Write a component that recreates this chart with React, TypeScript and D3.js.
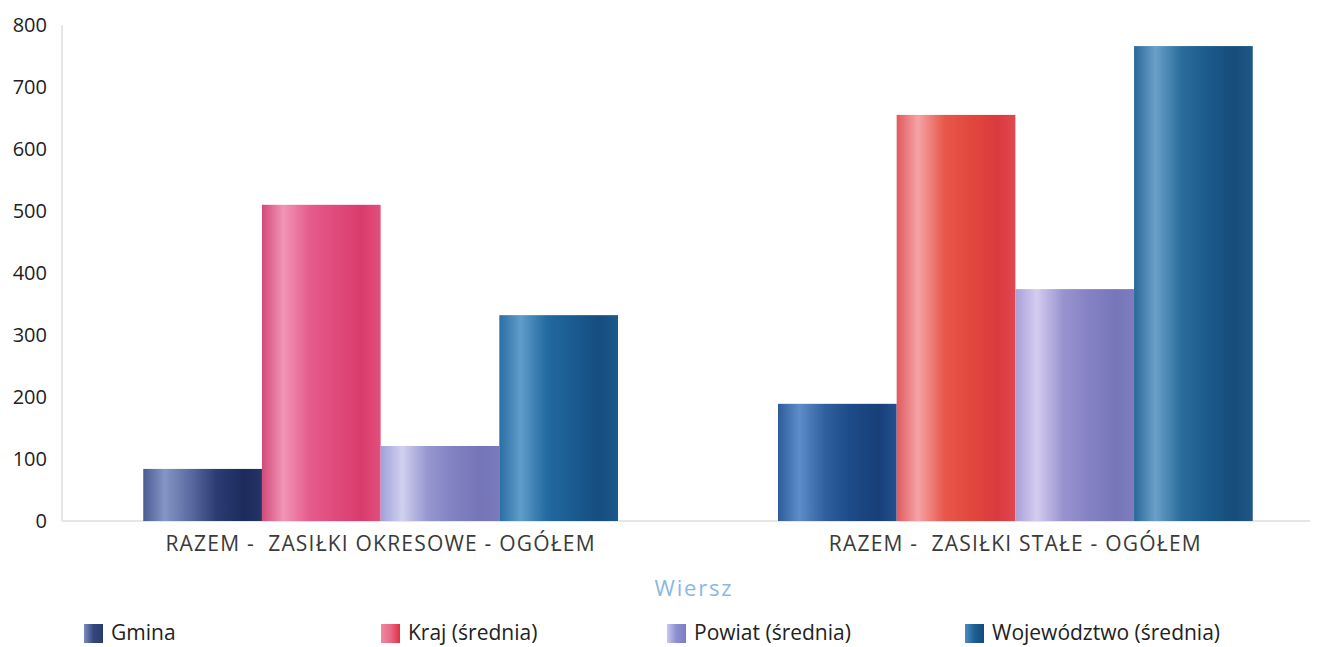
import React from 'react';
import * as d3 from 'd3';

const categories = ['RAZEM -  ZASIŁKI OKRESOWE - OGÓŁEM', 'RAZEM -  ZASIŁKI STAŁE - OGÓŁEM'];
const seriesNames = ['Gmina', 'Kraj (średnia)', 'Powiat (średnia)', 'Województwo (średnia)'];
const gmina = [84, 189];
const kraj = [510, 655];
const powiat = [121, 374];
const wojewodztwo = [332, 766];
const yTicks = [0, 100, 200, 300, 400, 500, 600, 700, 800];
const xAxisTitle = 'Wiersz';

const seriesValues = [gmina, kraj, powiat, wojewodztwo];

// gradient stops per series / category (scan-like vertical stripes)
const barStops: string[][][] = [
  [
    ['#4a5b92', '#8595c4', '#5a6aa0', '#2c3c72', '#1c2b5c', '#233466'],
    ['#2d5c9c', '#5d8cc8', '#2f5f9e', '#1d4a88', '#183f78', '#22508e'],
  ],
  [
    ['#d2497a', '#f195b5', '#e65c8c', '#e04a7c', '#d93c6c', '#e2507e'],
    ['#e05a5e', '#f5a3a6', '#e8574a', '#e2483c', '#d93a3e', '#e24850'],
  ],
  [
    ['#a0a0d8', '#d0d0f0', '#9696d0', '#8080c2', '#7474b8', '#7a7abd'],
    ['#a8a0d8', '#d4ccf0', '#9a94d0', '#8482c4', '#7676ba', '#7c7cbe'],
  ],
  [
    ['#2b6ea4', '#5f9dcb', '#226aa0', '#1a5b90', '#154d80', '#1d5a8c'],
    ['#2a6898', '#6aa0c8', '#2a6c9c', '#1b5a8a', '#164c7a', '#1e5888'],
  ],
];
const legendColors = [
  ['#34477c', '#7d8cc0', '#2a3a6e'],
  ['#e86a86', '#f08aa0', '#e03040'],
  ['#8d8dd0', '#c8c8f0', '#7c7cc4'],
  ['#1e5f92', '#4d8cc0', '#134a7a'],
];

const W = 1324;
const H = 647;
const margin = { top: 25, left: 62, right: 1334, bottom: 521 };

const App: React.FC = () => {
  const x0 = d3.scaleBand<string>()
    .domain(categories)
    .range([margin.left, margin.right])
    .paddingInner(0.252)
    .paddingOuter(0.128);

  const x1 = d3.scaleBand<number>()
    .domain(d3.range(seriesNames.length))
    .range([0, x0.bandwidth()])
    .padding(0);

  const y = d3.scaleLinear().domain([0, 800]).range([margin.bottom, margin.top]);

  const font = '"Open Sans", "DejaVu Sans", sans-serif';
  const legendX = [84, 381, 667, 965];

  return (
    <svg width={W} height={H} style={{ position: 'absolute', left: 0, top: 0, background: '#fff' }}>
      <defs>
        {barStops.map((cats, s) =>
          cats.map((stops, c) => (
            <linearGradient key={`g${s}-${c}`} id={`g${s}-${c}`} x1="0" x2="1" y1="0" y2="0">
              {stops.map((col, k) => (
                <stop key={k} offset={[0, 0.18, 0.4, 0.62, 0.85, 1][k]} stopColor={col} />
              ))}
            </linearGradient>
          ))
        )}
        {legendColors.map((cols, s) => (
          <linearGradient key={`l${s}`} id={`l${s}`} x1="0" x2="1" y1="0" y2="0">
            <stop offset="0" stopColor={cols[1]} />
            <stop offset="0.5" stopColor={cols[0]} />
            <stop offset="1" stopColor={cols[2]} />
          </linearGradient>
        ))}
      </defs>

      {/* axes */}
      <line x1={margin.left} x2={margin.left} y1={margin.top} y2={y(0)} stroke="#e6e6e6" strokeWidth={2} />
      <line x1={margin.left} x2={1310} y1={y(0)} y2={y(0)} stroke="#e6e6e6" strokeWidth={2} />

      {yTicks.map(t => (
        <text key={t} x={47} y={y(t)} dy="0.35em" textAnchor="end" fontFamily={font} fontSize={20} fill="#222">
          {t}
        </text>
      ))}

      {/* bars */}
      {categories.map((cat, c) => (
        <g key={cat} transform={`translate(${x0(cat)},0)`}>
          {seriesValues.map((vals, s) => (
            <rect
              key={s}
              x={x1(s)}
              y={y(vals[c])}
              width={x1.bandwidth()}
              height={y(0) - y(vals[c])}
              fill={`url(#g${s}-${c})`}
            />
          ))}
        </g>
      ))}

      {categories.map(cat => (
        <text
          key={cat}
          x={(x0(cat) as number) + x0.bandwidth() / 2}
          y={544}
          dy="0.35em"
          textAnchor="middle"
          fontFamily={font}
          fontSize={21}
          letterSpacing={1.2}
          fill="#3a3a3a"
          style={{ whiteSpace: 'pre' }}
        >
          {cat}
        </text>
      ))}

      <text x={694} y={588} dy="0.35em" textAnchor="middle" fontFamily={font} fontSize={22} letterSpacing={1.8} fill="#8ab8e6">
        {xAxisTitle}
      </text>

      {/* legend */}
      {seriesNames.map((name, s) => (
        <g key={name} transform={`translate(${legendX[s]},633)`}>
          <rect x={0} y={-9} width={19} height={19} fill={`url(#l${s})`} />
          <text x={27} y={0} dy="0.35em" fontFamily={font} fontSize={21} fill="#222">
            {name}
          </text>
        </g>
      ))}
    </svg>
  );
};

export default App;
